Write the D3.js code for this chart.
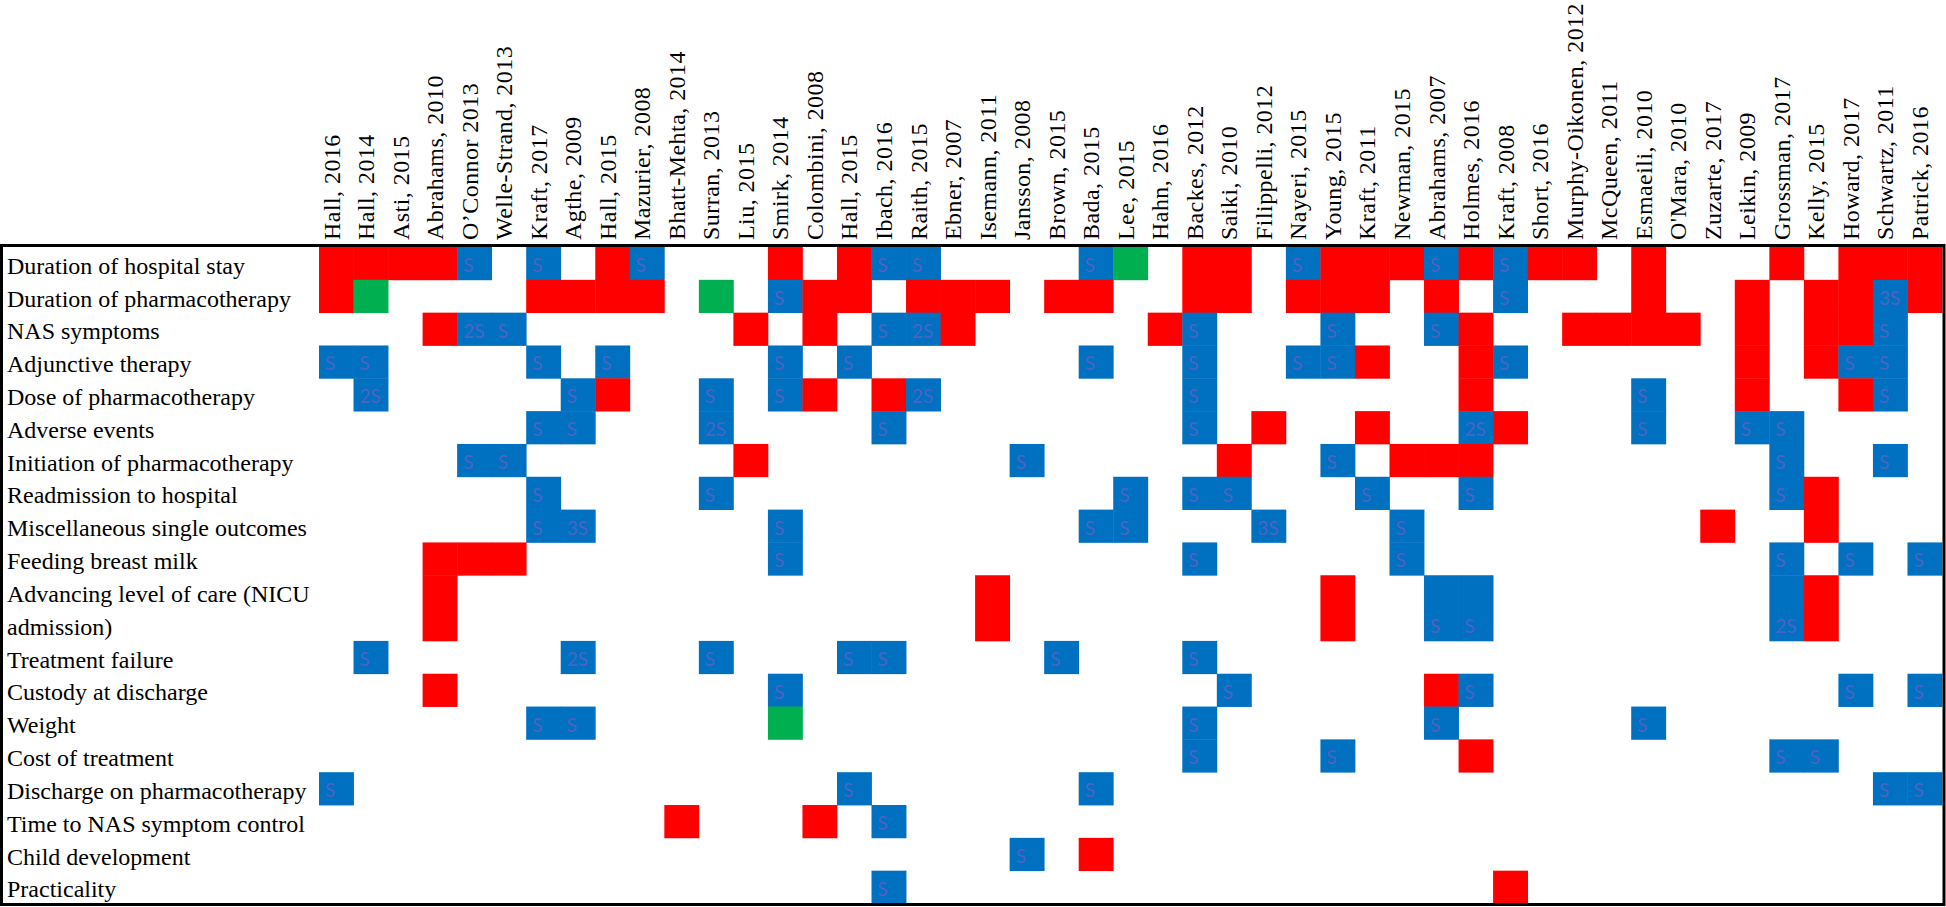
<!DOCTYPE html>
<html>
<head>
<meta charset="utf-8">
<script src="https://cdnjs.cloudflare.com/ajax/libs/d3/7.8.5/d3.min.js"></script>
<style>
  body { margin: 0; background: #fff; }
  svg { display: block; }
</style>
</head>
<body>
<svg id="chart" width="1946" height="907"></svg>
<script>
// study columns, in the order they appear
var studies = [
  "Hall, 2016", "Hall, 2014", "Asti, 2015", "Abrahams, 2010", "O\u2019Connor 2013",
  "Welle-Strand, 2013", "Kraft, 2017", "Agthe, 2009", "Hall, 2015", "Mazurier, 2008",
  "Bhatt-Mehta, 2014", "Surran, 2013", "Liu, 2015", "Smirk, 2014", "Colombini, 2008",
  "Hall, 2015", "Ibach, 2016", "Raith, 2015", "Ebner, 2007", "Isemann, 2011",
  "Jansson, 2008", "Brown, 2015", "Bada, 2015", "Lee, 2015", "Hahn, 2016",
  "Backes, 2012", "Saiki, 2010", "Filippelli, 2012", "Nayeri, 2015", "Young, 2015",
  "Kraft, 2011", "Newman, 2015", "Abrahams, 2007", "Holmes, 2016", "Kraft, 2008",
  "Short, 2016", "Murphy-Oikonen, 2012", "McQueen, 2011", "Esmaeili, 2010", "O'Mara, 2010",
  "Zuzarte, 2017", "Leikin, 2009", "Grossman, 2017", "Kelly, 2015", "Howard, 2017",
  "Schwartz, 2011", "Patrick, 2016"
];

// outcome rows ("\n" = the label wraps to a second line)
var outcomes = [
  "Duration of hospital stay",
  "Duration of pharmacotherapy",
  "NAS symptoms",
  "Adjunctive therapy",
  "Dose of pharmacotherapy",
  "Adverse events",
  "Initiation of pharmacotherapy",
  "Readmission to hospital",
  "Miscellaneous single outcomes",
  "Feeding breast milk",
  "Advancing level of care (NICU\nadmission)",
  "Treatment failure",
  "Custody at discharge",
  "Weight",
  "Cost of treatment",
  "Discharge on pharmacotherapy",
  "Time to NAS symptom control",
  "Child development",
  "Practicality"
];

// one string per outcome, one character per study
// r = red, g = green, S = blue "S", 2 = blue "2S", 3 = blue "3S", . = empty
var results = [
  "rrrrS.S.rS" + "...r.rSS.." + "..Sg.rr.Sr" + "rrSrSrr.r." + "..r.rrr",
  "rg....rrrr" + ".g.Srr.rrr" + ".rr..rr.rr" + "r.r.S...r." + ".r.rr3r",
  "...r2S...." + "..r.r.S2r." + "....rS...S" + "..Sr..rrrr" + ".r.rrS.",
  "SS....S.S." + "...S.S...." + "..S..S..SS" + "r..rS....." + ".r.rSS.",
  ".2.....Sr." + ".S.Sr.r2.." + ".....S...." + "...r....S." + ".r..rS.",
  "......SS.." + ".2....S..." + ".....S.r.." + "r..2r...S." + ".SS....",
  "....SS...." + "..r......." + "S.....r..S" + ".rrr......" + "..S..S.",
  "......S..." + ".S........" + "...S.SS..." + "S..S......" + "..Sr...",
  "......S3.." + "...S......" + "..SS...3.." + ".S........" + "r..r...",
  "...rrr...." + "...S......" + ".....S...." + ".S........" + "..S.S.S",
  "...r......" + ".........r" + ".........r" + "..SS......" + "..2r...",
  ".S.....2.." + ".S...SS..." + ".S...S...." + ".........." + ".......",
  "...r......" + "...S......" + "......S..." + "..rS......" + "....S.S",
  "......SS.." + "...g......" + ".....S...." + "..S.....S." + ".......",
  ".........." + ".........." + ".....S...S" + "...r......" + "..SS...",
  "S........." + ".....S...." + "..S......." + ".........." + ".....SS",
  ".........." + "r...r.S..." + ".........." + ".........." + ".......",
  ".........." + ".........." + "S.r......." + ".........." + ".......",
  ".........." + "......S..." + ".........." + "....r....." + "......."
];

var fills = { r: "#FF0000", g: "#00B050", S: "#0070C0", "2": "#0070C0", "3": "#0070C0" };
var marks = { S: "S", "2": "2S", "3": "3S" };

var svg = d3.select("#chart");

// rows take one unit per label line
var rows = [];
var unit = 0;
outcomes.forEach(function(name, i) {
  var lines = name.split("\n");
  rows.push({ name: name, lines: lines, start: unit, span: lines.length, index: i });
  unit += lines.length;
});

var x = d3.scaleBand().domain(d3.range(studies.length)).range([319, 1942]);
var y = d3.scaleLinear().domain([0, unit]).range([247, 903.5]);
var uh = y(1) - y(0);

var cells = [];
rows.forEach(function(row) {
  results[row.index].split("").forEach(function(code, j) {
    if (code !== ".") {
      cells.push({ row: row, col: j, code: code });
    }
  });
});

svg.append("g").selectAll("rect")
  .data(cells)
  .enter().append("rect")
  .attr("x", function(d) { return x(d.col); })
  .attr("y", function(d) { return y(d.row.start); })
  .attr("width", x.bandwidth() + 0.4)
  .attr("height", function(d) { return y(d.row.start + d.row.span) - y(d.row.start) + 0.4; })
  .attr("fill", function(d) { return fills[d.code]; });

svg.append("g").selectAll("text")
  .data(cells.filter(function(d) { return marks[d.code]; }))
  .enter().append("text")
  .attr("x", function(d) { return x(d.col) + 6; })
  .attr("y", function(d) { return y(d.row.start + d.row.span - 1) + uh / 2 + 8.6; })
  .attr("font-family", "Lato, 'Open Sans', sans-serif")
  .attr("font-size", 19)
  .attr("fill", "#4F63C4")
  .text(function(d) { return marks[d.code]; });

// row labels
var labels = svg.append("g")
  .attr("font-family", "'Liberation Serif', 'Times New Roman', serif")
  .attr("font-size", 24)
  .attr("fill", "#000");

rows.forEach(function(row) {
  row.lines.forEach(function(line, k) {
    labels.append("text")
      .attr("x", 7)
      .attr("y", y(row.start + k) + 26.7)
      .text(line);
  });
});

// column headers, rotated
svg.append("g").selectAll("text")
  .data(studies)
  .enter().append("text")
  .attr("transform", function(d, i) { return "translate(" + (x(i) + 20.5) + ",240) rotate(-90)"; })
  .attr("font-family", "'Liberation Serif', 'Times New Roman', serif")
  .attr("font-size", 24)
  .attr("letter-spacing", 0.45)
  .attr("fill", "#000")
  .text(function(d) { return d; });

// table frame
svg.append("rect")
  .attr("x", 1.5)
  .attr("y", 245.5)
  .attr("width", 1942.5)
  .attr("height", 659)
  .attr("fill", "none")
  .attr("stroke", "#000")
  .attr("stroke-width", 3);
</script>
</body>
</html>
